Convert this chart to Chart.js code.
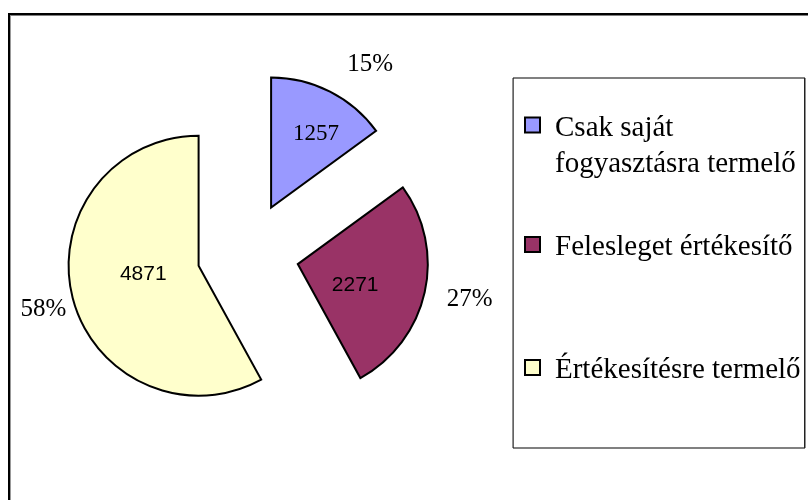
<!DOCTYPE html>
<html><head><meta charset="utf-8">
<script src="https://cdn.jsdelivr.net/npm/chart.js@4.4.1/dist/chart.umd.min.js"></script>
<style>html,body{margin:0;padding:0;background:#fff;overflow:hidden}canvas{display:block}</style>
</head><body>
<canvas id="c" width="808" height="500"></canvas>
<script>
// ---- data ----
const categories = [['Csak saját', 'fogyasztásra termelő'], 'Felesleget értékesítő', 'Értékesítésre termelő'];
const values = [1257, 2271, 4871];
const colors = ['#9999FF', '#993366', '#FFFFCC'];

const total = values.reduce((a, b) => a + b, 0);
const percentLabels = values.map(v => Math.round(v / total * 100) + '%');

// ---- plugins ----
const framePlugin = {
  id: 'frame',
  beforeDraw(chart) {
    const c = chart.ctx;
    c.save();
    c.fillStyle = '#fff';
    c.fillRect(0, 0, chart.width, chart.height);
    c.fillStyle = '#000';
    c.fillRect(8, 13, chart.width - 8, 2.5);
    c.fillRect(8, 13, 2, chart.height - 13);
    c.fillStyle = '#999';
    c.fillRect(10, 15.5, 1, chart.height - 15);
    c.restore();
  }
};

const explodePlugin = {
  id: 'explode',
  afterDatasetUpdate(chart, args, opts) {
    const meta = chart.getDatasetMeta(args.index);
    meta.data.forEach(arc => {
      const mid = (arc.startAngle + arc.endAngle) / 2;
      arc.x += Math.cos(mid) * opts.distance;
      arc.y += Math.sin(mid) * opts.distance;
    });
  }
};

const sliceLabelPlugin = {
  id: 'sliceLabels',
  afterDatasetsDraw(chart, args, opts) {
    const c = chart.ctx;
    const meta = chart.getDatasetMeta(0);
    c.save();
    c.textAlign = 'center';
    c.textBaseline = 'middle';
    c.fillStyle = '#000';
    meta.data.forEach((arc, i) => {
      const mid = (arc.startAngle + arc.endAngle) / 2;
      const R = arc.outerRadius;
      const a1 = mid + opts.inner[i][1] * Math.PI / 180;
      c.font = opts.innerFonts[i];
      c.fillText(String(values[i]), arc.x + Math.cos(a1) * R * opts.inner[i][0], arc.y + Math.sin(a1) * R * opts.inner[i][0]);
      const a2 = mid + opts.outer[i][1] * Math.PI / 180;
      c.font = opts.outerFont;
      c.fillText(percentLabels[i], arc.x + Math.cos(a2) * R * opts.outer[i][0], arc.y + Math.sin(a2) * R * opts.outer[i][0]);
    });
    c.restore();
  }
};

const boxLegendPlugin = {
  id: 'boxLegend',
  afterDraw(chart, args, opts) {
    const c = chart.ctx;
    const b = opts.box;
    c.save();
    c.fillStyle = '#fff';
    c.fillRect(b.x, b.y, b.w, b.h);
    c.fillStyle = '#808080';
    c.fillRect(b.x, b.y - 1, b.w, 2);
    c.fillRect(b.x, b.y + b.h - 1, b.w, 2);
    c.fillStyle = '#222';
    c.fillRect(b.x - 0.5, b.y, 1.2, b.h);
    c.fillRect(b.x + b.w - 1, b.y, 1.5, b.h);
    c.font = opts.font;
    c.textBaseline = 'alphabetic';
    c.textAlign = 'left';
    const labels = chart.data.labels;
    labels.forEach((lab, i) => {
      const lines = Array.isArray(lab) ? lab : [lab];
      const base = opts.baselines[i];
      c.fillStyle = chart.data.datasets[0].backgroundColor[i];
      c.fillRect(opts.markerX, base - 18, 15, 15);
      c.lineWidth = 2;
      c.strokeStyle = '#000';
      c.strokeRect(opts.markerX, base - 18, 15, 15);
      c.fillStyle = '#000';
      lines.forEach((ln, k) => c.fillText(ln, opts.textX, base + k * opts.lineH));
    });
    c.restore();
  }
};

new Chart(document.getElementById('c'), {
  type: 'pie',
  data: {
    labels: categories,
    datasets: [{
      data: values,
      backgroundColor: colors,
      borderColor: '#000',
      borderWidth: 2,
      borderJoinStyle: 'miter',
      radius: 130
    }]
  },
  options: {
    responsive: false,
    animation: false,
    events: [],
    rotation: 0,
    layout: { padding: { left: 0, right: 312, top: 6, bottom: 0 } },
    plugins: {
      legend: { display: false },
      tooltip: { enabled: false },
      explode: { distance: 51 },
      sliceLabels: {
        inner: [[0.66, 4.6], [0.47, 7.6], [0.43, 6.1]],
        outer: [[1.34, 7.7], [1.35, -0.8], [1.24, -1.4]],
        innerFonts: ['23px "Liberation Serif"', '21px "Liberation Sans"', '21px "Liberation Sans"'],
        outerFont: '25px "Liberation Serif"'
      },
      boxLegend: {
        box: { x: 513, y: 78, w: 292, h: 370 },
        font: '29px "Liberation Serif"',
        markerX: 525,
        textX: 555,
        baselines: [135.5, 255, 378],
        lineH: 36.5
      }
    }
  },
  plugins: [framePlugin, explodePlugin, sliceLabelPlugin, boxLegendPlugin]
});
</script>
</body></html>
